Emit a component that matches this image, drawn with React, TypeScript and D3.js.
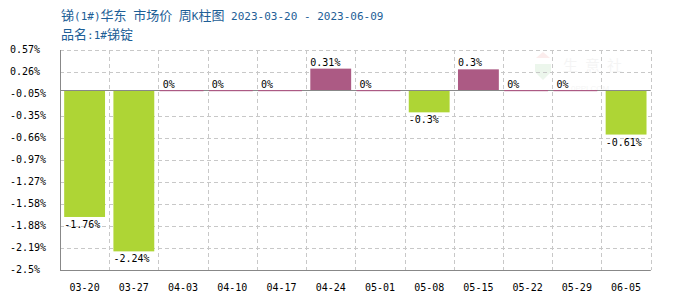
import React from "react";
import * as d3 from "d3";

const categories = ["03-20", "03-27", "04-03", "04-10", "04-17", "04-24", "05-01", "05-08", "05-15", "05-22", "05-29", "06-05"];
const values = [-1.76, -2.24, 0, 0, 0, 0.31, 0, -0.3, 0.3, 0, 0, -0.61];
const valueLabels = ["-1.76%", "-2.24%", "0%", "0%", "0%", "0.31%", "0%", "-0.3%", "0.3%", "0%", "0%", "-0.61%"];
const tickValues = [0.57, 0.263, -0.044, -0.351, -0.658, -0.965, -1.272, -1.579, -1.886, -2.193, -2.5];
const tickLabels = ["0.57%", "0.26%", "-0.05%", "-0.35%", "-0.66%", "-0.97%", "-1.27%", "-1.58%", "-1.88%", "-2.19%", "-2.5%"];
const title = "锑(1#)华东 市场价 周K柱图 2023-03-20 - 2023-06-09";
const subtitle = "品名:1#锑锭";

const W = 700, H = 300;
const L = 60, R = 650.7, T = 50, B = 270;
const mono = "'DejaVu Sans Mono', monospace";
const cjk = "'Noto Sans CJK SC', sans-serif";
const GREEN = "#aed535";
const PURPLE = "#ac5a84";
const GRID = "#c8c8c8";
const TITLE_COLOR = "#1d5e96";

function runs(s: string) {
  const out: { t: string; c: boolean }[] = [];
  for (const ch of s) {
    const c = /[\u3000-\u9fff\uff00-\uffef]/.test(ch);
    if (out.length && out[out.length - 1].c === c) out[out.length - 1].t += ch;
    else out.push({ t: ch, c });
  }
  return out;
}

function MixedText({ x, y, s }: { x: number; y: number; s: string }) {
  return (
    <text x={x} y={y} fill={TITLE_COLOR} xmlSpace="preserve" style={{ whiteSpace: "pre" }}>
      {runs(s).map((r, i) => (
        <tspan key={i} fontFamily={r.c ? cjk : mono} fontSize={r.c ? 13 : 11}>{r.t}</tspan>
      ))}
    </text>
  );
}

export default function App() {
  const x = d3.scaleBand<string>().domain(categories).range([L, R]).paddingInner(0).paddingOuter(0);
  const y = d3.scaleLinear().domain([-2.5, 0.57]).range([B, T]);
  const bw = x.bandwidth();
  const pad = bw * 0.085;
  const y0 = y(0);
  const zy = Math.round(y0) - 1;
  return (
    <svg width={W} height={H} style={{ position: "absolute", left: 0, top: 0, background: "#fff" }}>
      <MixedText x={61} y={20} s={title} />
      <MixedText x={61} y={39} s={subtitle} />
      {/* watermark */}
      <g opacity={0.07}>
        <path d="M 536 58 L 543 52 L 550 58 Z" fill="#c00" />
        <path d="M 535 64 L 551 64 L 551 72 L 543 80 L 535 72 Z" fill="#080" />
        <text x={563} y={71} fontFamily={cjk} fontSize={15} fill="#777" letterSpacing={7}>生意社</text>
        <text x={571} y={91} fontFamily="sans-serif" fontSize={8} fill="#777">0PPI.COM</text>
      </g>
      {/* horizontal grid */}
      {tickValues.map((t, i) =>
        i === 2 ? null : (
          <line key={"h" + i} x1={L} x2={R} y1={Math.round(y(t)) + 0.5} y2={Math.round(y(t)) + 0.5} stroke={GRID} strokeDasharray="4,3" />
        )
      )}
      {/* vertical grid */}
      {categories.map((c, i) => {
        const xx = Math.round((x(c) as number) + bw) + 0.5;
        return <line key={"v" + i} x1={xx} x2={xx} y1={T} y2={B} stroke={GRID} strokeDasharray="4,3" />;
      })}
      {/* non-zero bars */}
      {values.map((v, i) => {
        if (v === 0) return null;
        const bx = (x(categories[i]) as number) + pad;
        const top = v > 0 ? y(v) : y0;
        const h = Math.abs(y(v) - y0);
        return <rect key={"b" + i} x={bx} y={top} width={bw - 2 * pad} height={h} fill={v < 0 ? GREEN : PURPLE} />;
      })}
      {/* zero line and axes */}
      <line x1={L} x2={R} y1={zy + 0.5} y2={zy + 0.5} stroke="#888" />
      <line x1={L + 0.5} x2={L + 0.5} y1={T} y2={B} stroke="#888" />
      <line x1={L} x2={R} y1={B + 0.5} y2={B + 0.5} stroke="#888" />
      {/* zero-value bars */}
      {values.map((v, i) => {
        if (v !== 0) return null;
        const bx = (x(categories[i]) as number) + pad;
        return <rect key={"z" + i} x={bx - 3} y={zy} width={bw - 2 * pad + 3} height={1.2} fill={PURPLE} />;
      })}
      {/* value labels */}
      {values.map((v, i) => {
        const bx = (x(categories[i]) as number) + pad;
        const ly = v < 0 ? y(v) + 11 : (v > 0 ? y(v) - 3 : y0 - 3);
        return (
          <text key={"l" + i} x={bx} y={ly} fontFamily={mono} fontSize={10} fill="#000">{valueLabels[i]}</text>
        );
      })}
      {/* y tick labels */}
      {tickValues.map((t, i) => (
        <text key={"t" + i} x={10} y={y(t) + 2.5} fontFamily={mono} fontSize={10} fill="#000">{tickLabels[i]}</text>
      ))}
      {/* x labels */}
      {categories.map((c, i) => (
        <text key={"x" + i} x={(x(c) as number) + bw / 2} y={291} textAnchor="middle" fontFamily={mono} fontSize={10} fill="#000">{c}</text>
      ))}
    </svg>
  );
}
